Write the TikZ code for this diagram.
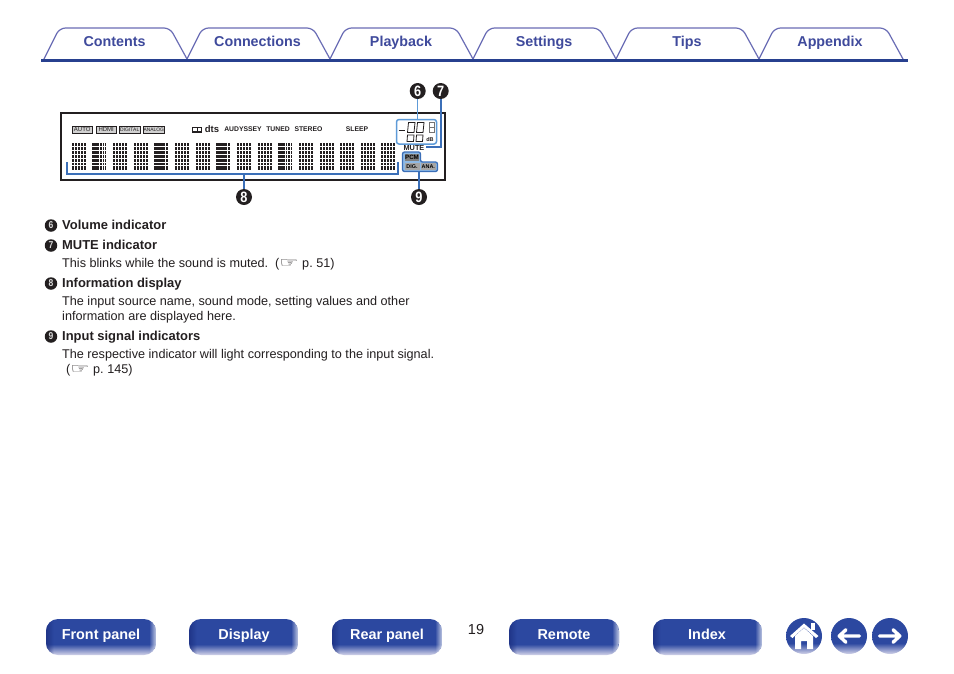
\documentclass[tikz,border=0pt]{standalone}
\usepackage{fontspec}
\setmainfont{Liberation Sans}
\newfontfamily\dejavu{DejaVu Sans}
\frenchspacing
\definecolor{navy}{HTML}{27408F}
\definecolor{tabline}{HTML}{6A6DB5}
\definecolor{tabtext}{HTML}{3F4A9C}
\definecolor{callout}{HTML}{3B6FB8}
\definecolor{lcdblue}{HTML}{5E9BD8}
\definecolor{btn}{HTML}{2C48A0}
\definecolor{btndark}{HTML}{1C2F80}
\definecolor{btnlight}{HTML}{D4D4EA}
\definecolor{ink}{HTML}{231F20}
\pgfdeclareverticalshading{btnfade}{100bp}{color(0bp)=(btnlight); color(25bp)=(btnlight); color(40bp)=(btn); color(100bp)=(btn)}
\newcommand{\px}[1]{\fontsize{#1}{#1}\selectfont}
\newcommand{\handmark}{{\dejavu\raisebox{-.5pt}{\scalebox{1.7}[1.1]{☞}}}}
\tikzset{
 tabshape/.style={draw=tabline,line width=1.2pt,rounded corners=6pt},
 tablabel/.style={text=tabtext,font=\bfseries\px{14.3},anchor=base},
 body/.style={text=ink,font=\px{12.65},anchor=base west,inner sep=0pt},
 bodyhead/.style={text=ink,font=\bfseries\px{12.95},anchor=base west,inner sep=0pt},
 bignum/.style={circle,fill=ink,text=white,font=\bfseries\px{15},minimum size=16pt,inner sep=0pt},
 smallnum/.style={circle,fill=ink,text=white!85!black,font=\bfseries\px{10},minimum size=12.5pt,inner sep=0pt},
 callline/.style={draw=callout,line width=1.8pt},
 chip/.style={draw=ink,line width=.5pt,fill=#1,inner sep=0pt},
 chip/.default=white,
 lcd/.style={text=ink,font=\bfseries\px{#1},inner sep=0pt,anchor=center},
 lcd/.default=6.8,
 btnlabel/.style={text=white,font=\bfseries\px{14.4},anchor=base},
 roundkey/.style={circle,minimum size=36pt,inner sep=0pt,shading=btnfade},
 seg/.style={draw=ink,line width=.8pt},
}
\newcommand{\navbtn}[5]{% name x0 x1 label labelx
  \begin{scope}
    \clip[rounded corners=12pt] (#2,619) rectangle (#3,655);
    \shade[shading=btnfade] (#2,619) rectangle (#3,655);
    \foreach \k in {0,...,7}{
      \fill[btndark,opacity={.75-\k*.1}] (#2+\k,619) rectangle (#2+\k+1,655);
    }
    \foreach \k in {0,...,5}{
      \fill[white,opacity={.6-\k*.1}] (#3-\k-1,619) rectangle (#3-\k,655);
    }
  \end{scope}
  \node[btnlabel] (#1) at (#5,639) {#4};
}
% block of the dot-matrix display: x, kind (0 plain, 1 mixed, 2 heavy)
\newcommand{\matblock}[2]{%
  \fill[ink] (#1,143) rectangle (#1+14,170);
  \ifnum#2=2
    \fill[white] (#1+11,143) rectangle (#1+11.8,170);
  \else\ifnum#2=1
    \foreach \v in {7,9.4,11.8}{\fill[white] (#1+\v,143) rectangle (#1+\v+.8,170);}
  \else
    \foreach \v in {2.3,5.2,8.1,11}{\fill[white] (#1+\v,143) rectangle (#1+\v+.8,170);}
  \fi\fi
  \foreach \r in {146.4,150.2,154,157.8,161.6,164.5}{\fill[white] (#1,\r) rectangle (#1+14,\r+.8);}
}
\begin{document}
\begin{tikzpicture}[x=1pt,y=-1pt]
\useasboundingbox (0,0) rectangle (954,673);
\fill[white] (0,0) rectangle (954,673);
% tabs
\foreach \a/\b in {44/187,187/330,330/473,473/616,616/759,759/903}{
  \draw[tabshape] (\a,59) -- (\a+15.5,28) -- (\b-17,28) -- (\b,59);
}
\draw[navy,line width=3pt] (41,60.5) -- (908,60.5);
\node[tablabel] (t1) at (114.5,46) {Contents};
\node[tablabel] (t2) at (257.5,46) {Connections};
\node[tablabel] (t3) at (401,46) {Playback};
\node[tablabel] (t4) at (544,46) {Settings};
\node[tablabel] (t5) at (687,46) {Tips};
\node[tablabel] (t6) at (830,46) {Appendix};
% display frame
\draw[ink,line width=2.4pt] (61,113) rectangle (445,180);
% top row labels
\foreach \x/\w/\t/\n/\f in {72/20/AUTO/a/6,96/20/HDMI/h/6,119/21/DIGITAL/d/5,143/21/ANALOG/n/4.9}{
  \node[chip=black!18,minimum width=\w pt,minimum height=7pt,anchor=west,text=ink,font=\px{\f}] (ind\n) at (\x,129.5) {\t};
}
\draw[ink,line width=1.1pt] (192.5,127.5) rectangle (201.5,132);
\fill[ink] (196.5,127.5) rectangle (197.5,132);
\node[lcd,font=\bfseries\px{9.5}] (dts) at (212,129) {dts};
\node[lcd] (aud) at (243,129.5) {AUDYSSEY};
\node[lcd] (tun) at (278,129.5) {TUNED};
\node[lcd] (ste) at (308.5,129.5) {STEREO};
\node[lcd] (slp) at (357,129.5) {SLEEP};
% dot matrix
\foreach \x/\kind in {71.7/0,92.3/1,113/0,134/0,154/2,175/0,196/0,216/2,237/0,258/0,278/1,299/0,320/0,340/0,361/0,381/0}{
  \matblock{\x}{\kind}
}
% volume
\draw[lcdblue,line width=1.5pt,rounded corners=2.5pt] (396.5,119.5) rectangle (436.5,144);
\foreach \x in {407.5,416.5}{
  \draw[seg] (\x,132.5) -- (\x+1,122.5) -- (\x+7.5,122.5) -- (\x+6.5,132.5) -- cycle;
  \draw[seg] (\x-.5,141.5) -- (\x,135) -- (\x+6.5,135) -- (\x+6,141.5) -- cycle;
}
\draw[seg,line width=1pt] (398.5,130) -- (404.5,130);
\draw[black!55,line width=.7pt] (429.5,122) rectangle (434.5,132) (429.5,127) -- (434.5,127);
\node[lcd=5.5] (dbmark) at (430,139.5) {dB};
% mute
\node[lcd=7.3] (mute) at (414,148.3) {MUTE};
% input signal indicators
\draw[callout,line width=1.3pt,rounded corners=2pt,fill=lcdblue!70]
  (402.5,152) -- (420.5,152) -- (420.5,162) -- (437.5,162) -- (437.5,171.5) -- (402.5,171.5) -- cycle;
\node[chip=black!50,draw=none,minimum width=14pt,minimum height=7.5pt,text=black,font=\bfseries\px{6.2},anchor=center] (pcm) at (412,157.6) {PCM};
\node[chip=black!35,draw=none,minimum width=15pt,minimum height=7pt,text=black,font=\bfseries\px{5.4},anchor=center] (dig) at (412,166.8) {DIG.};
\node[chip=black!35,draw=none,minimum width=15pt,minimum height=7pt,text=black,font=\bfseries\px{5.4},anchor=center] (ana) at (428.3,166.8) {ANA.};
\coordinate (volbox) at (417.7,119.5);
\coordinate (siglow) at (419,171.5);
\coordinate (muteend) at (426,147.3);
\coordinate (corner7) at (440.7,147.3);
\coordinate (brL) at (67.3,163);
\coordinate (brLb) at (67.3,174.2);
\coordinate (brRb) at (398,174.2);
\coordinate (brR) at (398,163);
\coordinate (brM) at (244,174.2);
% call-outs
\node[bignum] (c6) at (417.7,91) {\scalebox{.85}[1]{6}};
\node[bignum] (c7) at (440.7,91) {\scalebox{.85}[1]{7}};
\node[bignum] (c8) at (244,197) {\scalebox{.85}[1]{8}};
\node[bignum] (c9) at (419,197) {\scalebox{.85}[1]{9}};
\draw[lcdblue,line width=1.3pt] (c6) -- (volbox);
\draw[callline] (c7) -- (corner7) -- (muteend);
\draw[callline,line cap=rect] (brL) -- (brLb) -- (brRb) -- (brR);
\draw[callline] (brM) -- (c8);
\draw[callline,line width=1.3pt] (siglow) -- (c9);
% legend
\node[smallnum] (n6) at (51,225.5) {\scalebox{.85}[1]{6}};
\node[bodyhead] (h6) at (62,229) {Volume indicator};
\node[smallnum] (n7) at (51,245.5) {\scalebox{.85}[1]{7}};
\node[bodyhead] (h7) at (62,249.3) {MUTE indicator};
\node[body] (b7) at (62,267.3) {This blinks while the sound is muted.\ \ (\handmark\ p. 51)};
\node[smallnum] (n8) at (51,283.5) {\scalebox{.85}[1]{8}};
\node[bodyhead] (h8) at (62,287.3) {Information display};
\node[body] (b8a) at (62,305.5) {The input source name, sound mode, setting values and other};
\node[body] (b8b) at (62,320.3) {information are displayed here.};
\node[smallnum] (n9) at (51,336.5) {\scalebox{.85}[1]{9}};
\node[bodyhead] (h9) at (62,340) {Input signal indicators};
\node[body] (b9a) at (62,358.3) {The respective indicator will light corresponding to the input signal.};
\node[body] (b9b) at (66,373.3) {(\handmark\ p. 145)};
% page number
\node[text=ink,font=\px{14.5}] (page) at (476,629) {19};
% nav buttons
\navbtn{b1}{46}{156}{Front panel}{101}
\navbtn{b2}{189}{298}{Display}{244}
\navbtn{b3}{332}{442}{Rear panel}{387}
\navbtn{b4}{509}{619}{Remote}{564}
\navbtn{b5}{653}{762}{Index}{707}
% round buttons
\node[roundkey] (home) at (804,636) {};
\node[roundkey] (back) at (849,636) {};
\node[roundkey] (next) at (890,636) {};
\fill[white] (811,622.5) rectangle (815,630);
\fill[white] (790,636) -- (804,623.5) -- (818.5,636) -- (816,638) -- (804,627.5) -- (792.5,638) -- cycle;
\fill[white] (795,636) -- (804,628) -- (813,636) -- (813,649) -- (807,649) -- (807,641) -- (801,641) -- (801,649) -- (795,649) -- cycle;
\foreach \s/\c in {1/back,-1/next}{
  \begin{scope}[shift={(\c.center)},x=\s pt]
    \draw[white,line width=3.4pt,line cap=round,line join=round]
      (-3,-6.3) -- (-9.8,0) -- (-3,6.3) (-9.8,0) -- (10.5,0);
  \end{scope}
}
\end{tikzpicture}
\end{document}
